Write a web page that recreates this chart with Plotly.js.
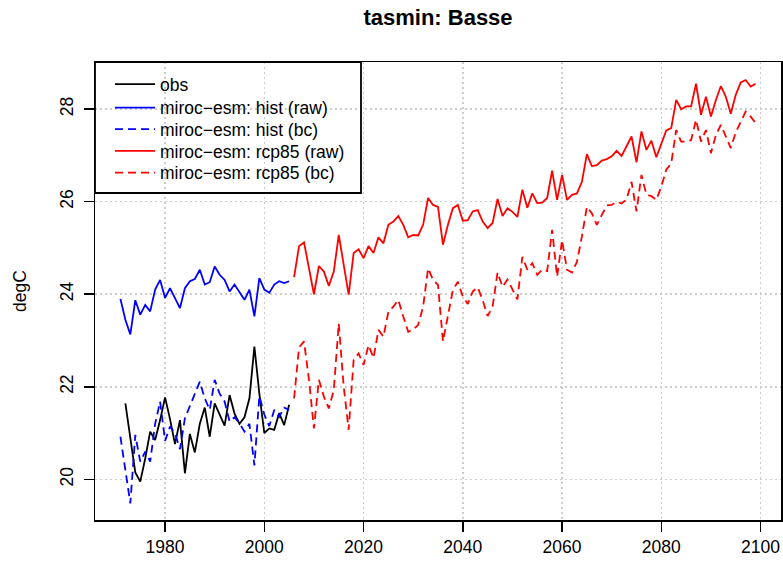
<!DOCTYPE html>
<html>
<head>
<meta charset="utf-8">
<script src="https://cdn.plot.ly/plotly-3.0.1.min.js"></script>
<style>
  html, body { margin: 0; padding: 0; overflow: hidden; background: #fff; }
</style>
</head>
<body>
<div id="chart" style="width:783px;height:564px"></div>
<script>
// Minimum temperature (tasmin) at Basse: observations, MIROC-ESM historical and RCP8.5, raw and bias-corrected

const obsYears = [1972,1973,1974,1975,1976,1977,1978,1979,1980,1981,1982,1983,1984,1985,1986,1987,1988,1989,1990,
  1991,1992,1993,1994,1995,1996,1997,1998,1999,2000,2001,2002,2003,2004,2005];
const obsValues = [21.64,20.90,20.15,19.95,20.45,21.03,20.85,21.28,21.77,21.30,20.76,21.28,20.13,20.98,20.58,21.20,21.55,20.92,21.64,
  21.40,21.16,21.82,21.42,21.20,21.34,21.75,22.87,21.85,21.00,21.10,21.07,21.43,21.17,21.61];

const histYears = [1971,1972,1973,1974,1975,1976,1977,1978,1979,1980,1981,1982,1983,1984,1985,1986,1987,1988,1989,1990,
  1991,1992,1993,1994,1995,1996,1997,1998,1999,2000,2001,2002,2003,2004,2005];
const histRaw = [23.90,23.45,23.13,23.87,23.56,23.77,23.63,24.10,24.31,23.92,24.13,23.92,23.70,24.13,24.28,24.33,24.53,24.21,24.26,24.60,
  24.42,24.31,24.06,24.21,24.03,23.88,24.10,23.52,24.35,24.10,24.03,24.21,24.28,24.24,24.28];
const histBc = [20.92,20.20,19.48,20.96,20.38,20.60,20.38,21.20,21.68,20.83,21.14,21.00,20.65,21.32,21.59,21.86,22.11,21.75,21.50,22.15,
  21.85,21.68,21.25,21.34,21.21,21.03,21.20,20.30,21.80,21.40,21.15,21.50,21.35,21.55,21.50];

const rcpYears = [2006,2007,2008,2009,2010,2011,2012,2013,2014,2015,2016,2017,2018,2019,2020,2021,2022,2023,2024,2025,
  2026,2027,2028,2029,2030,2031,2032,2033,2034,2035,2036,2037,2038,2039,2040,2041,2042,2043,2044,2045,
  2046,2047,2048,2049,2050,2051,2052,2053,2054,2055,2056,2057,2058,2059,2060,2061,2062,2063,2064,2065,
  2066,2067,2068,2069,2070,2071,2072,2073,2074,2075,2076,2077,2078,2079,2080,2081,2082,2083,2084,2085,
  2086,2087,2088,2089,2090,2091,2092,2093,2094,2095,2096,2097,2098,2099];
const rcpRaw = [24.37,25.04,25.12,24.56,24.00,24.61,24.49,24.18,24.49,25.28,24.60,23.99,24.89,24.97,24.78,25.04,24.89,25.23,25.10,25.50,
  25.57,25.69,25.50,25.23,25.28,25.27,25.50,26.08,25.93,25.89,25.07,25.50,25.86,25.93,25.59,25.60,25.79,25.82,25.57,25.43,
  25.54,26.06,25.69,25.86,25.78,25.67,26.26,25.87,26.18,25.97,25.98,26.08,26.67,26.04,26.58,26.04,26.15,26.18,26.43,27.03,
  26.77,26.79,26.89,26.92,26.98,27.10,26.99,27.19,27.41,26.85,27.52,27.12,27.32,26.96,27.26,27.54,27.59,28.20,28.00,28.06,
  28.06,28.55,27.88,28.27,27.84,28.20,28.50,28.27,27.90,28.31,28.58,28.63,28.49,28.55];
const rcpBc = [21.75,22.85,22.98,22.15,21.10,22.15,21.79,21.53,21.93,23.37,22.00,21.07,22.58,22.72,22.47,22.90,22.62,23.23,23.08,23.62,
  23.73,23.88,23.52,23.19,23.23,23.34,23.73,24.56,24.31,24.20,22.98,23.52,24.09,24.27,23.95,23.79,24.06,24.15,23.87,23.53,
  23.73,24.47,24.16,24.32,24.09,23.89,24.81,24.53,24.67,24.42,24.53,24.50,25.39,24.38,25.17,24.53,24.47,24.70,25.25,25.89,
  25.75,25.50,25.71,25.92,25.93,26.00,25.96,26.05,26.43,25.79,26.58,26.15,26.12,26.04,26.33,26.69,26.83,27.55,27.30,27.30,
  27.33,27.77,27.30,27.55,27.05,27.44,27.66,27.39,27.16,27.50,27.73,27.95,27.84,27.70];

const seriesNames = ['obs', 'miroc\u2212esm: hist (raw)', 'miroc\u2212esm: hist (bc)',
  'miroc\u2212esm: rcp85 (raw)', 'miroc\u2212esm: rcp85 (bc)'];
const xTicks = [1980, 2000, 2020, 2040, 2060, 2080, 2100];
const yTicks = [20, 22, 24, 26, 28];

const FONT = '"Liberation Sans", Arial, Helvetica, sans-serif';
const dashed = '8px,5px';
const lw = 1.8;

function line(x, y, name, color, dash, legendId) {
  return {
    type: 'scatter', mode: 'lines', x: x, y: y, name: name,
    line: { color: color, width: lw, dash: dash },
    legend: legendId, hoverinfo: 'x+y+name'
  };
}

const traces = [
  line(obsYears, obsValues, seriesNames[0], '#000000', 'solid', 'legend'),
  line(histYears, histRaw, seriesNames[1], '#0000FF', 'solid', 'legend2'),
  line(histYears, histBc, seriesNames[2], '#0000FF', dashed, 'legend3'),
  line(rcpYears, rcpRaw, seriesNames[3], '#FF0000', 'solid', 'legend4'),
  line(rcpYears, rcpBc, seriesNames[4], '#FF0000', dashed, 'legend5')
];

// plot area in pixels: left 95, right 781, top 62, bottom 520
const W = 783, H = 564, ML = 95, MR = 2, MT = 62, MB = 44;
const PW = W - ML - MR, PH = H - MT - MB;
const px = v => (v - ML) / PW;
const py = v => (H - MB - v) / PH;

// one legend per row so each entry sits at its own height inside the framed box
function legendAt(rowY) {
  return {
    x: px(110), y: py(rowY), xanchor: 'left', yanchor: 'middle',
    bgcolor: 'rgba(0,0,0,0)', borderwidth: 0,
    font: { family: FONT, size: 17.5, color: '#000' },
    itemwidth: 40, itemclick: false, itemdoubleclick: false
  };
}

const axisCommon = {
  showline: true, linecolor: '#000', linewidth: 1.5, mirror: true,
  ticks: 'outside', ticklen: 10, tickwidth: 1.5, tickcolor: '#000',
  showgrid: true, gridcolor: '#cccccc', gridwidth: 1.5, griddash: '2px,3px',
  zeroline: false,
  tickfont: { family: FONT, size: 17.5, color: '#000' }
};

const layout = {
  width: W, height: H,
  margin: { l: ML, r: MR, t: MT, b: MB, pad: 0 },
  paper_bgcolor: '#fff', plot_bgcolor: '#fff',
  font: { family: FONT, color: '#000' },
  title: {
    text: '<b>tasmin: Basse</b>',
    font: { family: FONT, size: 22, color: '#000' },
    x: px(438), xref: 'paper', xanchor: 'center',
    y: 1 - 17 / H, yref: 'container', yanchor: 'middle'
  },
  xaxis: Object.assign({}, axisCommon, {
    range: [1965.88, 2104.12], tickmode: 'array', tickvals: xTicks,
    ticktext: xTicks.map(String)
  }),
  yaxis: Object.assign({}, axisCommon, {
    range: [19.12, 29.02], tickmode: 'array', tickvals: yTicks,
    ticktext: yTicks.map(String), tickangle: -90, ticklabelstandoff: 4,
    title: { text: 'degC', font: { family: FONT, size: 17.5, color: '#000' }, standoff: 25 }
  }),
  showlegend: true,
  legend: legendAt(84.3),
  legend2: legendAt(107.7),
  legend3: legendAt(129.3),
  legend4: legendAt(151),
  legend5: legendAt(172.7),
  shapes: [{
    type: 'rect', xref: 'paper', yref: 'paper',
    x0: 0, x1: px(361), y0: py(193), y1: 1,
    line: { color: '#000', width: 1.8 }, fillcolor: 'rgba(0,0,0,0)', layer: 'above'
  }]
};

Plotly.newPlot('chart', traces, layout, { displayModeBar: false, staticPlot: true });
</script>
</body>
</html>
